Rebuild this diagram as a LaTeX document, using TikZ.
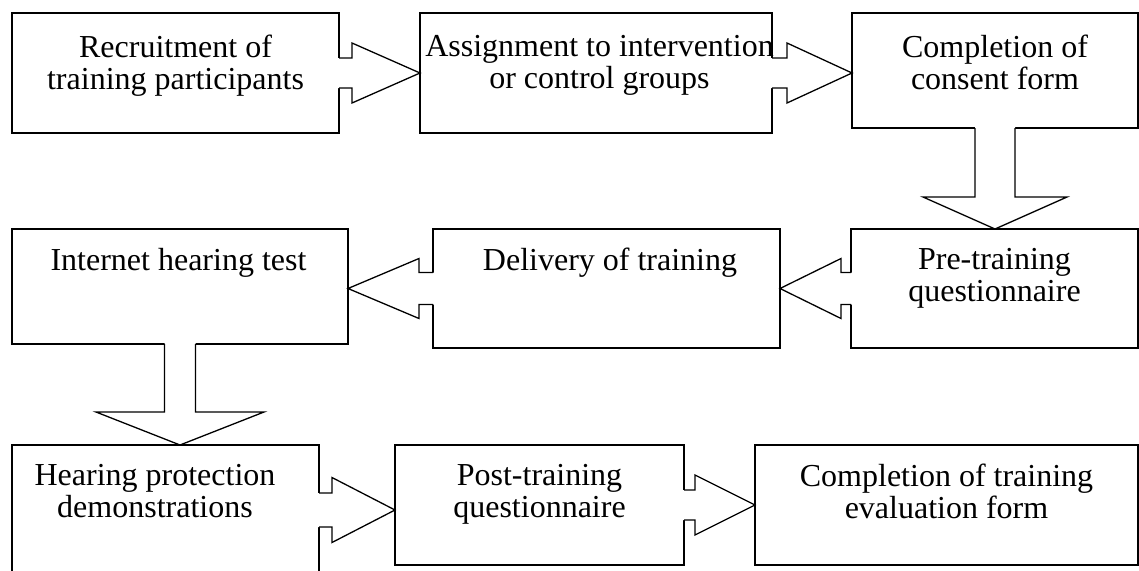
\documentclass[tikz,border=0pt]{standalone}
\usepackage{fontspec}
\setmainfont{Liberation Serif}
\usetikzlibrary{calc}
% block arrows drawn from a source node to a target node
% #1 source, #2 target, #3 shaft half width, #4 shaft length, #5 head half width
\newcommand\blkR[5]{%
  \fill[white] ($(#1.east)+(-2,-#3)$) -- ($(#1.east)+(#4,-#3)$) -- ($(#1.east)+(#4,-#5)$) -- (#1.east -| #2.west) -- ($(#1.east)+(#4,#5)$) -- ($(#1.east)+(#4,#3)$) -- ($(#1.east)+(-2,#3)$) -- cycle;
  \draw[edge] ($(#1.east)+(0,-#3)$) -- ($(#1.east)+(#4,-#3)$) -- ($(#1.east)+(#4,-#5)$) -- (#1.east -| #2.west) -- ($(#1.east)+(#4,#5)$) -- ($(#1.east)+(#4,#3)$) -- ($(#1.east)+(0,#3)$);}
\newcommand\blkL[5]{%
  \fill[white] ($(#1.west)+(2,-#3)$) -- ($(#1.west)+(-#4,-#3)$) -- ($(#1.west)+(-#4,-#5)$) -- (#1.west -| #2.east) -- ($(#1.west)+(-#4,#5)$) -- ($(#1.west)+(-#4,#3)$) -- ($(#1.west)+(2,#3)$) -- cycle;
  \draw[edge] ($(#1.west)+(0,-#3)$) -- ($(#1.west)+(-#4,-#3)$) -- ($(#1.west)+(-#4,-#5)$) -- (#1.west -| #2.east) -- ($(#1.west)+(-#4,#5)$) -- ($(#1.west)+(-#4,#3)$) -- ($(#1.west)+(0,#3)$);}
\newcommand\blkD[5]{%
  \fill[white] ($(#1.south)+(-#3,-2)$) -- ($(#1.south)+(-#3,#4)$) -- ($(#1.south)+(-#5,#4)$) -- (#1.south |- #2.north) -- ($(#1.south)+(#5,#4)$) -- ($(#1.south)+(#3,#4)$) -- ($(#1.south)+(#3,-2)$) -- cycle;
  \draw[edge] ($(#1.south)+(-#3,0)$) -- ($(#1.south)+(-#3,#4)$) -- ($(#1.south)+(-#5,#4)$) -- (#1.south |- #2.north) -- ($(#1.south)+(#5,#4)$) -- ($(#1.south)+(#3,#4)$) -- ($(#1.south)+(#3,0)$);}
\begin{document}
\begin{tikzpicture}[x=1pt,y=-1pt,
  box/.style={draw, line width=1.3pt, inner sep=0pt, outer sep=0pt, rectangle},
  edge/.style={line width=1.3pt, line join=miter},
  lbl/.style={align=center, inner sep=0pt, font=\fontsize{32}{32}\selectfont, anchor=north}]
\useasboundingbox (0,0) rectangle (1139,570);
\clip (0,0) rectangle (1139,570);
% boxes
\node[box, minimum width=327pt, minimum height=120pt] (b1) at (175.5,73) {};
\node[box, minimum width=352pt, minimum height=120pt] (b2) at (596,73) {};
\node[box, minimum width=286pt, minimum height=115pt] (b3) at (995,70.5) {};
\node[box, minimum width=287pt, minimum height=119pt] (b4) at (994.5,288.5) {};
\node[box, minimum width=347pt, minimum height=119pt] (b5) at (606.5,288.5) {};
\node[box, minimum width=336pt, minimum height=115pt] (b6) at (180,286.5) {};
\node[box, minimum width=307pt, minimum height=130pt] (b7) at (165.5,510) {};
\node[box, minimum width=289pt, minimum height=120pt] (b8) at (539.5,505) {};
\node[box, minimum width=383pt, minimum height=120pt] (b9) at (946.5,505) {};
% arrows
\blkR{b1}{b2}{15}{13}{30}
\blkR{b2}{b3}{15}{15}{30}
\blkD{b3}{b4}{20}{69}{72}
\blkL{b4}{b5}{16}{10}{30}
\blkL{b5}{b6}{16}{14}{30}
\blkD{b6}{b7}{15.5}{68}{84}
\blkR{b7}{b8}{17}{13}{32.5}
\blkR{b8}{b9}{15}{11}{30}
% labels
\node[lbl] (t1) at ($(b1.north)+(0,22)$) {Recruitment of\\training participants};
\node[lbl] (t2) at ($(b2.north)+(3.5,22)$) {Assignment to intervention\\or control groups};
\node[lbl] (t3) at ($(b3.north)+(0,22)$) {Completion of\\consent form};
\node[lbl] (t4) at ($(b4.north)+(0,19)$) {Pre-training\\questionnaire};
\node[lbl] (t5) at ($(b5.north)+(3.5,19)$) {Delivery of training};
\node[lbl] (t6) at ($(b6.north)+(-1.5,19)$) {Internet hearing test};
\node[lbl] (t7) at ($(b7.north)+(-10.5,19)$) {Hearing protection\\demonstrations};
\node[lbl] (t8) at ($(b8.north)+(0,19)$) {Post-training\\questionnaire};
\node[lbl] (t9) at ($(b9.north)+(0,19)$) {Completion of training\\evaluation form};
\end{tikzpicture}
\end{document}
